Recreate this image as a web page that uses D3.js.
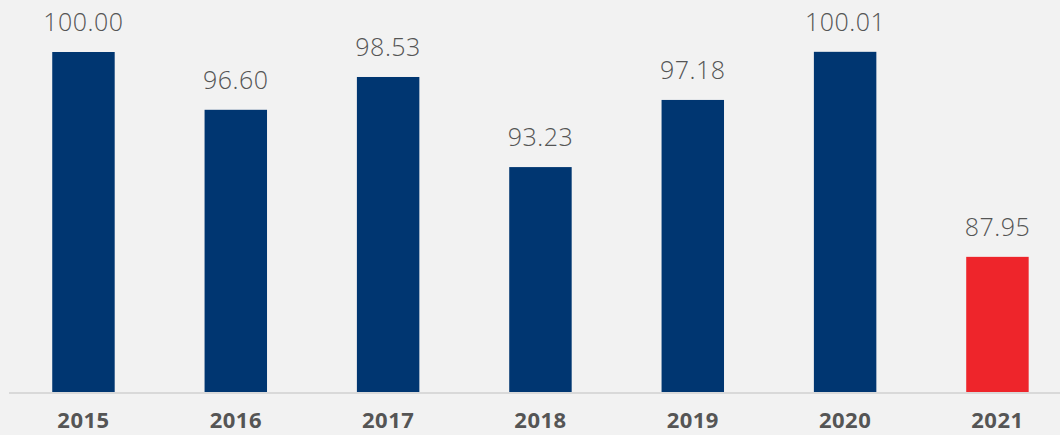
<!DOCTYPE html>
<html>
<head>
<meta charset="utf-8">
<script src="https://cdn.jsdelivr.net/npm/d3@7"></script>
<style>
  html, body { margin: 0; padding: 0; background: #f2f2f2; }
  svg { display: block; }
</style>
</head>
<body>
<div id="chart"></div>
<script>
const years = ["2015", "2016", "2017", "2018", "2019", "2020", "2021"];
const values = [100.00, 96.60, 98.53, 93.23, 97.18, 100.01, 87.95];
const valueLabels = ["100.00", "96.60", "98.53", "93.23", "97.18", "100.01", "87.95"];
const highlightYear = "2021";

const W = 1060, H = 435;
const baseY = 392;

const svg = d3.select("#chart").append("svg")
  .attr("width", W).attr("height", H);

svg.append("rect").attr("width", W).attr("height", H).attr("fill", "#f2f2f2");

const x = d3.scaleBand()
  .domain(years)
  .range([7.3, 7.3 + 152.33 * 7])
  .paddingInner(0.59)
  .paddingOuter(0.295);

const y = d3.scaleLinear()
  .domain([80, 100])
  .range([baseY, 52]);

// baseline
svg.append("line")
  .attr("x1", 9).attr("x2", W)
  .attr("y1", baseY + 1).attr("y2", baseY + 1)
  .attr("stroke", "#d9d9d9").attr("stroke-width", 2);

svg.selectAll("rect.bar")
  .data(years)
  .enter().append("rect")
  .attr("class", "bar")
  .attr("x", d => x(d))
  .attr("width", x.bandwidth())
  .attr("y", (d, i) => y(values[i]))
  .attr("height", (d, i) => baseY - y(values[i]))
  .attr("fill", d => d === highlightYear ? "#ee252b" : "#003671");

svg.selectAll("text.val")
  .data(years)
  .enter().append("text")
  .attr("class", "val")
  .attr("x", d => x(d) + x.bandwidth() / 2)
  .attr("y", (d, i) => y(values[i]) - 21)
  .attr("text-anchor", "middle")
  .attr("font-family", "'Open Sans', sans-serif")
  .attr("font-weight", 300)
  .attr("font-size", 25)
  .attr("letter-spacing", 0.5)
  .attr("fill", "#555555")
  .text((d, i) => valueLabels[i]);

const xAxis = d3.axisBottom(x).tickSize(0).tickPadding(0);
const gx = svg.append("g").attr("transform", `translate(0,${baseY})`).call(xAxis);
gx.select(".domain").remove();
gx.selectAll("text")
  .attr("dy", null)
  .attr("y", 36)
  .attr("font-family", "'Open Sans', sans-serif")
  .attr("font-weight", 700)
  .attr("font-size", 22)
  .attr("letter-spacing", 0.5)
  .attr("fill", "#555555");
</script>
</body>
</html>
